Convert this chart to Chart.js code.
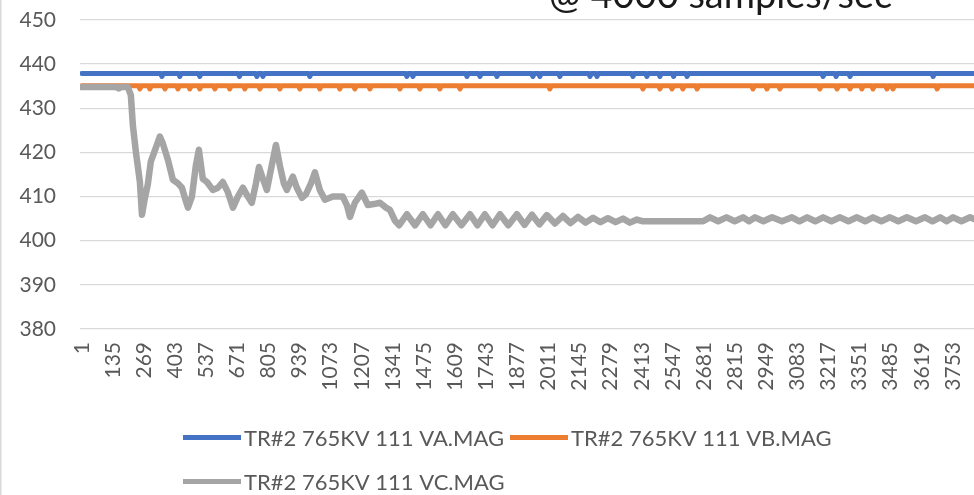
<!DOCTYPE html>
<html>
<head>
<meta charset="utf-8">
<script src="https://cdn.jsdelivr.net/npm/chart.js@4.4.1/dist/chart.umd.min.js"></script>
<style>
  html, body { margin: 0; padding: 0; background: #ffffff; overflow: hidden; }
  #wrap { position: relative; width: 974px; height: 495px; }
</style>
</head>
<body>
<div id="wrap"><canvas id="c" width="974" height="495"></canvas></div>
<script>
// ---- chart values ----
const titleText = "@ 4000 samples/sec";

const seriesNames = [
  "TR#2 765KV 111 VA.MAG",
  "TR#2 765KV 111 VB.MAG",
  "TR#2 765KV 111 VC.MAG"
];

const xTickLabels = [1,135,269,403,537,671,805,939,1073,1207,1341,1475,1609,1743,1877,
  2011,2145,2279,2413,2547,2681,2815,2949,3083,3217,3351,3485,3619,3753];

const yTickLabels = [380,390,400,410,420,430,440,450];

// sample index, magnitude
const vaPoints = [
  [1,437.9],
  [340,437.9],[346,437.2],[352,437.9],
  [417,437.9],[423,437.2],[429,437.9],
  [503,437.9],[509,437.2],[515,437.9],
  [674,437.9],[680,437.2],[686,437.9],
  [749,437.9],[755,437.2],[761,437.9],
  [775,437.9],[781,437.2],[787,437.9],
  [977,437.9],[983,437.2],[989,437.9],
  [1395,437.9],[1401,437.2],[1407,437.9],
  [1421,437.9],[1427,437.2],[1433,437.9],
  [1654,437.9],[1660,437.2],[1666,437.9],
  [1710,437.9],[1716,437.2],[1722,437.9],
  [1783,437.9],[1789,437.2],[1795,437.9],
  [1938,437.9],[1944,437.2],[1950,437.9],
  [1968,437.9],[1974,437.2],[1980,437.9],
  [2054,437.9],[2060,437.2],[2066,437.9],
  [2184,437.9],[2190,437.2],[2196,437.9],
  [2214,437.9],[2220,437.2],[2226,437.9],
  [2369,437.9],[2375,437.2],[2381,437.9],
  [2429,437.9],[2435,437.2],[2441,437.9],
  [2485,437.9],[2491,437.2],[2497,437.9],
  [2544,437.9],[2550,437.2],[2556,437.9],
  [2602,437.9],[2608,437.2],[2614,437.9],
  [3188,437.9],[3194,437.2],[3200,437.9],
  [3244,437.9],[3250,437.2],[3256,437.9],
  [3304,437.9],[3310,437.2],[3316,437.9],
  [3662,437.9],[3668,437.2],[3674,437.9],
  [3844,437.9]
];

const vbPoints = [
  [1,435.1],
  [245,435.1],[251,434.4],[257,435.1],
  [288,435.1],[294,434.4],[300,435.1],
  [353,435.1],[359,434.4],[365,435.1],
  [409,435.1],[415,434.4],[421,435.1],
  [460,435.1],[466,434.4],[472,435.1],
  [503,435.1],[509,434.4],[515,435.1],
  [568,435.1],[574,434.4],[580,435.1],
  [632,435.1],[638,434.4],[644,435.1],
  [697,435.1],[703,434.4],[709,435.1],
  [762,435.1],[768,434.4],[774,435.1],
  [848,435.1],[854,434.4],[860,435.1],
  [934,435.1],[940,434.4],[946,435.1],
  [1020,435.1],[1026,434.4],[1032,435.1],
  [1106,435.1],[1112,434.4],[1118,435.1],
  [1171,435.1],[1177,434.4],[1183,435.1],
  [1236,435.1],[1242,434.4],[1248,435.1],
  [1365,435.1],[1371,434.4],[1377,435.1],
  [1451,435.1],[1457,434.4],[1463,435.1],
  [1537,435.1],[1543,434.4],[1549,435.1],
  [1624,435.1],[1630,434.4],[1636,435.1],
  [2011,435.1],[2017,434.4],[2023,435.1],
  [2412,435.1],[2418,434.4],[2424,435.1],
  [2485,435.1],[2491,434.4],[2497,435.1],
  [2537,435.1],[2543,434.4],[2549,435.1],
  [2584,435.1],[2590,434.4],[2596,435.1],
  [2645,435.1],[2651,434.4],[2657,435.1],
  [2886,435.1],[2892,434.4],[2898,435.1],
  [2946,435.1],[2952,434.4],[2958,435.1],
  [3002,435.1],[3008,434.4],[3014,435.1],
  [3174,435.1],[3180,434.4],[3186,435.1],
  [3248,435.1],[3254,434.4],[3260,435.1],
  [3304,435.1],[3310,434.4],[3316,435.1],
  [3355,435.1],[3361,434.4],[3367,435.1],
  [3403,435.1],[3409,434.4],[3415,435.1],
  [3463,435.1],[3469,434.4],[3475,435.1],
  [3489,435.1],[3495,434.4],[3501,435.1],
  [3679,435.1],[3685,434.4],[3691,435.1],
  [3844,435.1]
];

const vcPoints = [
  [1,434.8],[150,434.8],[160,434.5],[170,434.8],[199,434.8],
  [212,433.0],[221,426.0],[234,420.0],[251,413.3],[260,405.9],
  [272,409.5],[285,412.7],[298,417.9],[316,420.5],[337,423.6],
  [350,422.0],[372,418.3],[393,413.8],[415,413.0],[432,412.0],
  [449,409.0],[458,407.5],[475,410.0],[492,417.0],[505,420.6],
  [522,414.0],[540,413.3],[565,411.5],[587,412.0],[608,413.3],
  [630,411.0],[652,407.5],[673,410.0],[695,412.0],[716,410.0],
  [733,408.6],[751,413.0],[764,416.7],[781,414.0],[798,411.5],
  [815,416.0],[837,421.7],[854,417.0],[871,413.0],[884,411.5],
  [910,414.5],[927,412.0],[949,409.7],[966,410.5],[988,413.0],
  [1005,415.5],[1026,411.5],[1048,409.3],[1082,410.0],[1125,410.0],
  [1143,408.0],[1156,405.4],[1177,408.6],[1207,410.9],[1233,408.1],
  [1259,408.3],[1285,408.6],[1311,407.5],[1328,407.0],[1350,404.5],
  [1368,403.5],[1401,406.0],[1436,403.5],[1470,406.0],[1503,403.5],
  [1535,406.0],[1567,403.5],[1599,406.0],[1636,403.5],[1673,406.0],
  [1705,403.5],[1737,406.0],[1770,403.5],[1802,406.0],[1838,403.5],
  [1875,406.0],[1908,403.6],[1940,405.9],[1972,403.7],[2004,405.8],
  [2039,403.9],[2073,405.6],[2106,404.0],[2138,405.4],[2171,404.1],
  [2203,405.2],[2235,404.2],[2267,405.1],[2300,404.2],[2332,405.0],
  [2362,404.1],[2392,404.8],[2418,404.4],[2677,404.4],[2707,405.3],
  [2742,404.4],[2778,405.3],[2813,404.4],[2849,405.3],[2875,404.4],
  [2901,405.3],[2937,404.4],[2974,405.3],[3017,404.4],[3060,405.3],
  [3092,404.4],[3125,405.3],[3160,404.4],[3194,405.3],[3230,404.4],
  [3267,405.3],[3303,404.4],[3340,405.3],[3375,404.4],[3409,405.3],
  [3445,404.4],[3482,405.3],[3518,404.4],[3555,405.3],[3594,404.4],
  [3633,405.3],[3665,404.4],[3698,405.3],[3726,404.4],[3754,405.3],
  [3790,404.4],[3827,405.3],[3844,404.9]
];

const seriesColors = ["#4472C4", "#ED7D31", "#A5A5A5"];

// ---- drawing ----
const toXY = pts => pts.map(p => ({ x: p[0], y: p[1] }));

const decorPlugin = {
  id: 'decor',
  afterDraw(chart) {
    const ctx = chart.ctx;
    ctx.save();
    // chart frame edge on the left
    ctx.fillStyle = '#D9D9D9';
    ctx.fillRect(0, 0, 1.5, chart.height);
    // cropped title
    ctx.font = '38px Lato';
    ctx.fillStyle = '#1a1a1a';
    ctx.textAlign = 'left';
    ctx.textBaseline = 'alphabetic';
    ctx.fillText(titleText, 549, 8);
    // legend (Excel-style grid)
    const slots = [{ x: 183, y: 437.5 }, { x: 510, y: 437.5 }, { x: 183, y: 481.5 }];
    chart.data.datasets.forEach((ds, i) => {
      const s = slots[i];
      ctx.strokeStyle = ds.borderColor;
      ctx.lineWidth = 5;
      ctx.lineCap = 'butt';
      ctx.beginPath();
      ctx.moveTo(s.x, s.y);
      ctx.lineTo(s.x + 58, s.y);
      ctx.stroke();
      ctx.fillStyle = '#595959';
      ctx.font = '22px Lato';
      ctx.textBaseline = 'middle';
      ctx.fillText(ds.label, s.x + 61, s.y + 1);
    });
    ctx.restore();
  }
};

Chart.defaults.font.family = 'Lato';

new Chart(document.getElementById('c'), {
  type: 'line',
  data: {
    datasets: [
      { label: seriesNames[0], data: toXY(vaPoints), borderColor: seriesColors[0], backgroundColor: seriesColors[0], borderWidth: 5, order: 1 },
      { label: seriesNames[1], data: toXY(vbPoints), borderColor: seriesColors[1], backgroundColor: seriesColors[1], borderWidth: 5, order: 2 },
      { label: seriesNames[2], data: toXY(vcPoints), borderColor: seriesColors[2], backgroundColor: seriesColors[2], borderWidth: 6.5, order: 0 }
    ]
  },
  options: {
    responsive: false,
    animation: false,
    devicePixelRatio: 1,
    elements: {
      point: { radius: 0, hoverRadius: 0 },
      line: { tension: 0, fill: false, borderJoinStyle: 'round', borderCapStyle: 'round' }
    },
    layout: { autoPadding: false, padding: { left: 0, right: 0, top: 20, bottom: 100 } },
    plugins: {
      legend: { display: false },
      tooltip: { enabled: false },
      title: { display: false }
    },
    scales: {
      x: {
        type: 'linear',
        min: -7,
        max: 3844,
        afterBuildTicks: axis => { axis.ticks = xTickLabels.map(v => ({ value: v })); },
        afterFit: axis => { axis.height = 66; axis.paddingLeft = 0; axis.paddingRight = 0; },
        ticks: {
          autoSkip: false,
          minRotation: 90,
          maxRotation: 90,
          padding: 13,
          color: '#595959',
          font: { size: 21 },
          callback: v => String(v)
        },
        grid: { display: false, drawTicks: false },
        border: { display: false }
      },
      y: {
        min: yTickLabels[0],
        max: yTickLabels[yTickLabels.length - 1],
        afterBuildTicks: axis => { axis.ticks = yTickLabels.map(v => ({ value: v })); },
        afterFit: axis => { axis.width = 80; axis.paddingTop = 0; axis.paddingBottom = 0; },
        ticks: {
          padding: 24,
          color: '#595959',
          font: { size: 21 },
          callback: v => String(v)
        },
        grid: { color: '#D9D9D9', lineWidth: 1.3, drawTicks: false },
        border: { display: false }
      }
    }
  },
  plugins: [decorPlugin]
});
</script>
</body>
</html>
